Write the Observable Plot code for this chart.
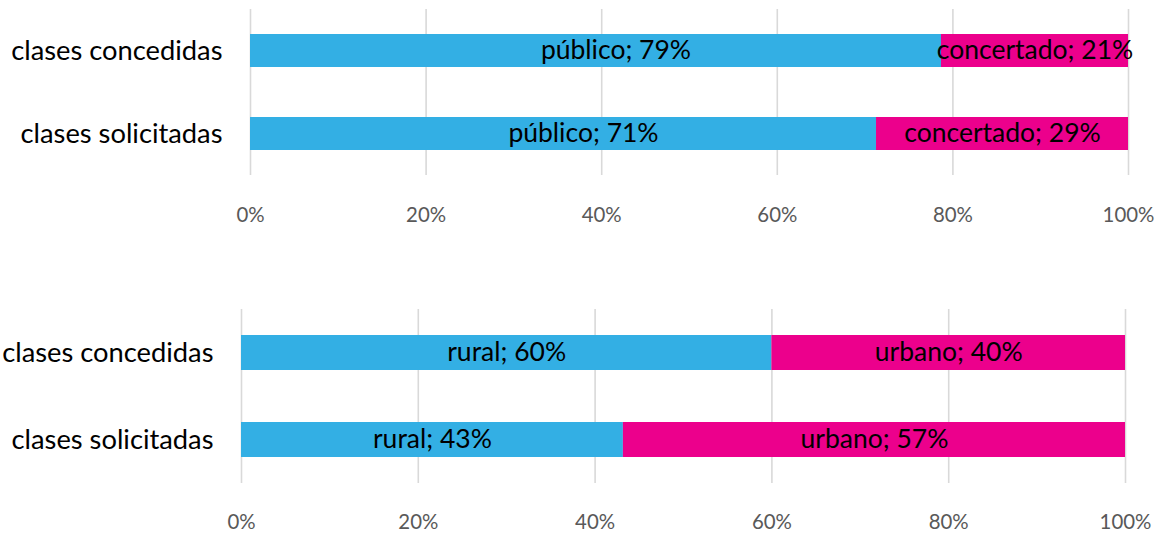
<!DOCTYPE html>
<html><head><meta charset="utf-8">
<script src="https://cdn.jsdelivr.net/npm/d3@7"></script>
<script src="https://cdn.jsdelivr.net/npm/@observablehq/plot@0.6"></script>
<style>body{margin:0;background:#fff} #c1,#c2{display:block;height:auto} svg{display:block}</style>
</head><body><div id="c1"></div><div id="c2"></div>
<script>
const categories = ["clases concedidas", "clases solicitadas"];
const topSeries = ["público", "concertado"];
const topPublico = [0.787, 0.713];
const topConcertado = [0.213, 0.287];
const bottomSeries = ["rural", "urbano"];
const bottomRural = [0.60, 0.432];
const bottomUrbano = [0.40, 0.568];
const tickValues = [0, 0.2, 0.4, 0.6, 0.8, 1];
const colors = ["#33AFE4", "#EC008C"];
const FONT = "Lato, 'Open Sans', sans-serif";

function rows(series, a, b) {
  const out = [];
  categories.forEach((c, i) => {
    out.push({cat: c, series: series[0], value: a[i], start: 0});
    out.push({cat: c, series: series[1], value: b[i], start: a[i]});
  });
  out.forEach(d => { d.end = d.start + d.value; d.mid = d.start + d.value / 2; d.label = `${d.series}; ${Math.round(d.value * 100)}%`; });
  return out;
}

function chart(data, series, o) {
  return Plot.plot({
    width: 1162, height: o.height,
    marginTop: o.mt, marginBottom: o.mb, marginLeft: o.ml, marginRight: o.mr,
    style: {fontFamily: FONT, background: "#fff"},
    x: {domain: [0, 1]},
    y: {domain: categories, paddingInner: o.pi, paddingOuter: o.po},
    color: {domain: series, range: colors},
    marks: [
      Plot.ruleX(tickValues, {stroke: "#d9d9d9", strokeWidth: 1.6}),
      Plot.barX(data, {y: "cat", x1: "start", x2: "end", fill: "series"}),
      Plot.text(data.filter(d => d.series === series[0]), {y: "cat", x: "mid", text: "label", fill: "#000", fontSize: 26.5, dx: o.dx0, lineAnchor: "middle"}),
      Plot.text(data.filter(d => d.series === series[1]), {y: "cat", x: "mid", text: "label", fill: "#000", fontSize: 26.5, lineAnchor: "middle"}),
      Plot.axisY({tickSize: 0, tickPadding: 28, fontSize: 27.3, color: "#000", label: null}),
      Plot.axisX({ticks: tickValues, tickSize: 0, tickPadding: o.tp, fontSize: 20.4, color: "#595959", tickFormat: d => Math.round(d * 100) + "%", label: null})
    ]
  });
}

document.getElementById("c1").append(chart(rows(topSeries, topPublico, topConcertado), topSeries,
  {height: 268, mt: 9, mb: 93, ml: 250, mr: 34, pi: 0.602, po: 0.29, dx0: 20, tp: 32}));
document.getElementById("c2").append(chart(rows(bottomSeries, bottomRural, bottomUrbano), bottomSeries,
  {height: 267, mt: 41, mb: 52, ml: 241, mr: 37, pi: 0.598, po: 0.299, dx0: 0, tp: 31}));
</script></body></html>
